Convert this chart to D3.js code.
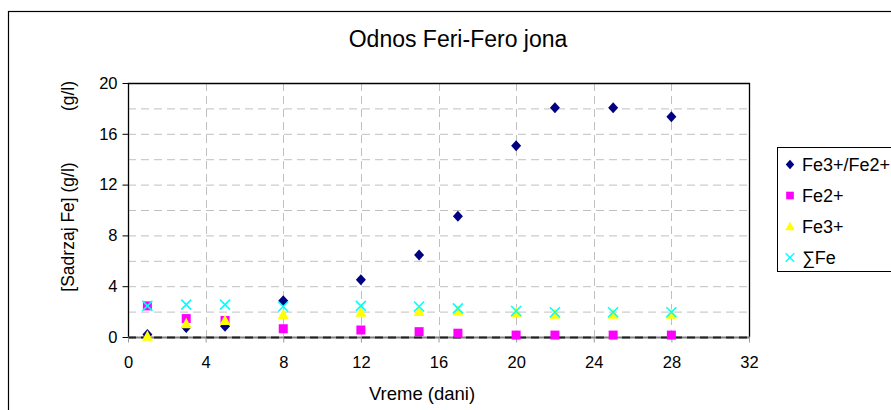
<!DOCTYPE html>
<html>
<head>
<meta charset="utf-8">
<script src="https://cdn.jsdelivr.net/npm/d3@7"></script>
<style>
  body { margin: 0; background: #fff; }
  svg { display: block; font-family: "Liberation Sans", Arial, sans-serif; }
</style>
</head>
<body>
<svg id="chart" width="891" height="410"></svg>
<script>
// Data
const days = [1, 3, 5, 8, 12, 15, 17, 20, 22, 25, 28];
const ratioFe = [0.2, 0.75, 0.85, 2.85, 4.5, 6.45, 9.5, 15.05, 18.05, 18.05, 17.35];
const fe2 = [2.45, 1.45, 1.3, 0.65, 0.55, 0.42, 0.3, 0.15, 0.15, 0.15, 0.15];
const fe3 = [0.05, 1.05, 1.3, 1.75, 1.95, 2.0, 2.05, 1.9, 1.8, 1.8, 1.8];
const sumFe = [2.45, 2.55, 2.55, 2.4, 2.45, 2.4, 2.25, 2.05, 1.95, 1.95, 1.95];

const xTicks = [0, 4, 8, 12, 16, 20, 24, 28, 32];
const yTicks = [0, 4, 8, 12, 16, 20];
const yGrid = [2, 4, 6, 8, 10, 12, 14, 16, 18];

const seriesList = [
  { name: "Fe3+/Fe2+", values: ratioFe, color: "#000080", shape: "diamond" },
  { name: "Fe2+", values: fe2, color: "#ff00ff", shape: "square" },
  { name: "Fe3+", values: fe3, color: "#ffff00", shape: "triangle" },
  { name: "\u2211Fe", values: sumFe, color: "#00ffff", shape: "cross" },
];

const plot = { left: 128, right: 749, top: 83, bottom: 337 };

const svg = d3.select("#chart");

// outer chart frame
svg.append("rect")
  .attr("x", 8.5).attr("y", 11.5)
  .attr("width", 900).attr("height", 420)
  .attr("fill", "#fff")
  .attr("stroke", "#000").attr("stroke-width", 1.2);

const x = d3.scaleLinear().domain([0, 32]).range([plot.left, plot.right]);
const y = d3.scaleLinear().domain([0, 20]).range([plot.bottom, plot.top]);

// gridlines
svg.append("g")
  .selectAll("line")
  .data(yGrid)
  .join("line")
  .attr("x1", plot.left).attr("x2", plot.right)
  .attr("y1", (d) => y(d) + 0.5).attr("y2", (d) => y(d) + 0.5)
  .attr("stroke", "#c0c0c0").attr("stroke-dasharray", "8,5");

svg.append("g")
  .selectAll("line")
  .data(xTicks.slice(1, -1))
  .join("line")
  .attr("x1", (d) => Math.round(x(d)) + 0.5).attr("x2", (d) => Math.round(x(d)) + 0.5)
  .attr("y1", plot.top).attr("y2", plot.bottom)
  .attr("stroke", "#c0c0c0").attr("stroke-dasharray", "8,5");

// plot frame
svg.append("path")
  .attr("d", `M${plot.left + 0.5},${plot.bottom}V${plot.top + 0.5}H${plot.right + 0.5}V${plot.bottom}`)
  .attr("fill", "none").attr("stroke", "#000").attr("stroke-width", 1.3);

// bottom axis line (dashed over gray like the reference)
svg.append("line")
  .attr("x1", plot.left).attr("x2", plot.right + 1)
  .attr("y1", plot.bottom + 0.5).attr("y2", plot.bottom + 0.5)
  .attr("stroke", "#808080").attr("stroke-width", 2);
svg.append("line")
  .attr("x1", plot.left).attr("x2", plot.right + 1)
  .attr("y1", plot.bottom + 0.5).attr("y2", plot.bottom + 0.5)
  .attr("stroke", "#222").attr("stroke-width", 2).attr("stroke-dasharray", "8,5");

// axes
const yAxis = svg.append("g")
  .attr("transform", `translate(${plot.left + 0.5},0)`)
  .call(d3.axisLeft(y).tickValues(yTicks).tickSize(6).tickPadding(5));
yAxis.select(".domain").remove();

const xAxis = svg.append("g")
  .attr("transform", `translate(0,${plot.bottom + 0.5})`)
  .call(d3.axisBottom(x).tickValues(xTicks).tickSize(5).tickPadding(14));
xAxis.select(".domain").remove();

svg.selectAll(".tick text")
  .attr("font-family", "'Liberation Sans', Arial, sans-serif")
  .attr("font-size", 16.5)
  .attr("fill", "#000");
xAxis.selectAll(".tick line").attr("stroke", "#999");
yAxis.selectAll(".tick line").attr("stroke", "#000");

// titles
svg.append("text")
  .attr("x", 458).attr("y", 47)
  .attr("text-anchor", "middle")
  .attr("font-size", 23)
  .text("Odnos Feri-Fero jona");

svg.append("text")
  .attr("x", 422).attr("y", 400)
  .attr("text-anchor", "middle")
  .attr("font-size", 18.5)
  .text("Vreme (dani)");

svg.append("text")
  .attr("transform", "translate(74,227) rotate(-90)")
  .attr("text-anchor", "middle")
  .attr("font-size", 17.5)
  .text("[Sadrzaj Fe] (g/l)");

svg.append("text")
  .attr("transform", "translate(74,96) rotate(-90)")
  .attr("text-anchor", "middle")
  .attr("font-size", 17.5)
  .text("(g/l)");

// markers
function drawMarker(sel, shape, color) {
  if (shape === "diamond") {
    sel.append("path").attr("d", "M0,-5.5L5,0L0,5.5L-5,0Z").attr("fill", color);
  } else if (shape === "square") {
    sel.append("rect").attr("x", -4.5).attr("y", -4.5).attr("width", 9).attr("height", 9).attr("fill", color);
  } else if (shape === "triangle") {
    sel.append("path").attr("d", "M0,-6L5.5,4.5L-5.5,4.5Z").attr("fill", color);
  } else {
    sel.append("path").attr("d", "M-5,-5L5,5M-5,5L5,-5")
      .attr("stroke", color).attr("stroke-width", 1.6).attr("fill", "none");
  }
}

seriesList.forEach((s) => {
  svg.append("g")
    .selectAll("g")
    .data(days.map((d, i) => ({ day: d, value: s.values[i] })))
    .join("g")
    .attr("transform", (d) => `translate(${x(d.day)},${y(d.value)})`)
    .each(function () { drawMarker(d3.select(this), s.shape, s.color); });
});

// legend
const legend = svg.append("g").attr("transform", "translate(777.5,147.5)");
legend.append("rect")
  .attr("width", 130).attr("height", 124)
  .attr("fill", "#fff").attr("stroke", "#000");

const legendRows = legend.selectAll("g")
  .data(seriesList)
  .join("g")
  .attr("transform", (d, i) => `translate(12.5,${17 + i * 31})`);

legendRows.each(function (d) {
  const g = d3.select(this).append("g").attr("transform", "scale(0.85)");
  drawMarker(g, d.shape, d.color);
});

legendRows.append("text")
  .attr("x", 12).attr("y", 6)
  .attr("font-size", 18)
  .text((d) => d.name);
</script>
</body>
</html>
